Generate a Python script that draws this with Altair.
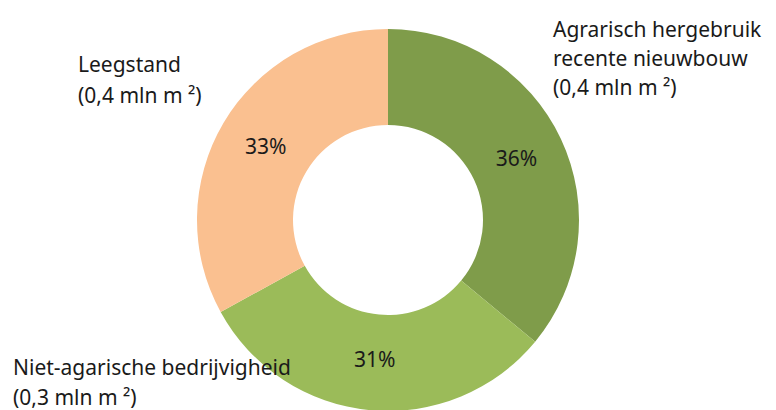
import altair as alt
import pandas as pd

categories = ["Agrarisch hergebruik recente nieuwbouw", "Niet-agarische bedrijvigheid", "Leegstand"]
label_lines = ["Agrarisch hergebruik\nrecente nieuwbouw\n(0,4 mln m ²)",
               "Niet-agarische bedrijvigheid\n(0,3 mln m ²)",
               "Leegstand\n(0,4 mln m ²)"]
shares = [36, 31, 33]
colors = ["#7f9c4a", "#9bbb59", "#fac090"]

df = pd.DataFrame({
    "cat": categories,
    "share": shares,
    "idx": [0, 1, 2],
    "label": label_lines,
})
df["pct"] = df["share"].astype(str) + "%"

FONT = "Noto Sans"
CX, CY = 380, 212

base = alt.Chart(df).encode(
    theta=alt.Theta("share:Q", stack=True),
    order=alt.Order("idx:Q"),
    color=alt.Color("cat:N", scale=alt.Scale(domain=categories, range=colors), legend=None),
)

arcs = base.mark_arc(radius=191, radius2=95).encode(
    x=alt.value(CX), y=alt.value(CY)
)

pcts = alt.Chart(df).mark_text(radius=142, font=FONT, fontSize=21, color="#1a1a1a").encode(
    theta=alt.Theta("share:Q", stack=True),
    order=alt.Order("idx:Q"),
    text="pct:N",
    x=alt.value(CX), y=alt.value(CY),
)

label_pos = [(545, 29, 29), (5, 367, 30), (70, 64, 31)]
label_layers = []
for i, (lx, ly, lh) in enumerate(label_pos):
    label_layers.append(
        alt.Chart(df).transform_filter(alt.datum.idx == i).mark_text(
            align="left", baseline="alphabetic", font=FONT, fontSize=21,
            lineBreak="\n", lineHeight=lh, color="#1a1a1a"
        ).encode(text="label:N", x=alt.value(lx), y=alt.value(ly))
    )

chart = alt.layer(arcs, pcts, *label_layers).properties(
    width=760, height=402, padding=0, autosize=alt.AutoSizeParams(type="none")
).configure_view(stroke=None)

chart.save("out.html", embed_options={"renderer": "svg", "actions": False})
